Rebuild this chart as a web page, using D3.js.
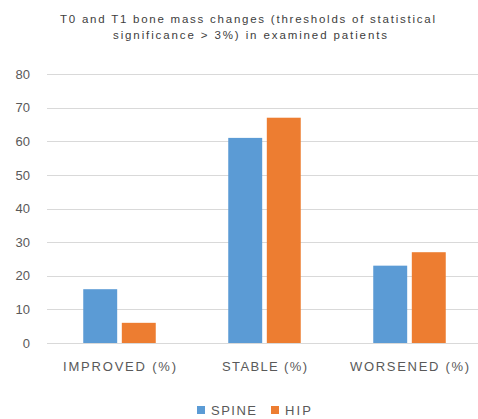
<!DOCTYPE html>
<html>
<head>
<style>
    body { margin: 0; background: #fff; }
    text { font-family: "Liberation Sans", Arial, sans-serif; }
</style>
</head>
<body>
<svg width="478" height="419"></svg>
<script src="https://cdn.jsdelivr.net/npm/d3@7"></script>
<script>
var categories = ["IMPROVED (%)", "STABLE (%)", "WORSENED (%)"];
var seriesNames = ["SPINE", "HIP"];
var spine = [16, 61, 23];
var hip = [6, 67, 27];
var yTicks = [0, 10, 20, 30, 40, 50, 60, 70, 80];
var titleLines = ["T0 and T1 bone mass changes (thresholds of statistical",
                  "significance > 3%) in examined patients"];
var colors = ["#5B9BD5", "#ED7D31"];

var svg = d3.select("svg");
var mLeft = 47, mRight = 482, mTop = 74, mBottom = 343;

var x = d3.scaleBand().domain(categories).range([mLeft, mRight])
    .paddingInner(0.5).paddingOuter(0.25);
var x1 = d3.scaleBand().domain(seriesNames).range([0, x.bandwidth()]).paddingInner(0.12);
var y = d3.scaleLinear().domain([0, 80]).range([mBottom, mTop]);

// title
var titleWidths = [375, 274];
svg.selectAll(".title").data(titleLines).enter().append("text")
    .attr("x", function(d, i) { return i ? 250 : 247.5; })
    .attr("y", function(d, i) { return 23 + i * 16; })
    .attr("text-anchor", "middle")
    .attr("font-size", 11.5)
    .attr("fill", "#404040")
    .attr("textLength", function(d, i) { return titleWidths[i]; })
    .attr("lengthAdjust", "spacing")
    .text(function(d) { return d; });

// grid
svg.selectAll(".grid").data(yTicks).enter().append("line")
    .attr("x1", mLeft).attr("x2", 478)
    .attr("y1", function(d) { return Math.round(y(d)) + 0.5; })
    .attr("y2", function(d) { return Math.round(y(d)) + 0.5; })
    .attr("stroke", "#d9d9d9").attr("stroke-width", 1.2);

var yAxis = svg.append("g").attr("transform", "translate(" + (mLeft - 12) + ",0)")
    .call(d3.axisLeft(y).tickValues(yTicks).tickSize(0).tickPadding(5));
yAxis.select(".domain").remove();
yAxis.selectAll("text").attr("font-size", 13).attr("fill", "#595959")
    .style("font-family", "Liberation Sans, Arial, sans-serif");

// bars
var data = categories.map(function(c, i) { return { cat: c, vals: [spine[i], hip[i]] }; });
var groups = svg.selectAll(".grp").data(data).enter().append("g")
    .attr("transform", function(d) { return "translate(" + x(d.cat) + ",0)"; });
groups.selectAll("rect").data(function(d) {
        return d.vals.map(function(v, j) { return { name: seriesNames[j], v: v, j: j }; });
    }).enter().append("rect")
    .attr("x", function(d) { return x1(d.name); })
    .attr("width", x1.bandwidth())
    .attr("y", function(d) { return y(d.v); })
    .attr("height", function(d) { return y(0) - y(d.v); })
    .attr("fill", function(d) { return colors[d.j]; });

// category labels
var catWidths = [113, 85, 119];
var xAxis = svg.append("g").attr("transform", "translate(0," + mBottom + ")")
    .call(d3.axisBottom(x).tickSize(0).tickPadding(19));
xAxis.select(".domain").remove();
xAxis.selectAll("text").attr("font-size", 13).attr("fill", "#595959")
    .attr("textLength", function(d, i) { return catWidths[i]; })
    .attr("lengthAdjust", "spacing")
    .style("font-family", "Liberation Sans, Arial, sans-serif");

// legend
var legendX = [197, 271];
var legendW = [45, 26];
var legend = svg.selectAll(".leg").data(seriesNames).enter().append("g")
    .attr("transform", function(d, i) { return "translate(" + legendX[i] + ",405)"; });
legend.append("rect").attr("width", 8).attr("height", 8).attr("y", 1)
    .attr("fill", function(d, i) { return colors[i]; });
legend.append("text").attr("x", 14).attr("y", 10)
    .attr("font-size", 13).attr("fill", "#595959")
    .attr("textLength", function(d, i) { return legendW[i]; })
    .attr("lengthAdjust", "spacing")
    .text(function(d) { return d; });
</script>
</body>
</html>
